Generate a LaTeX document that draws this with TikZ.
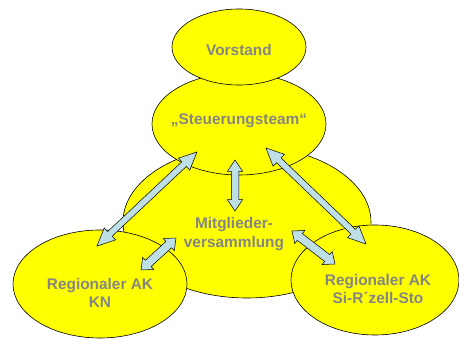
\documentclass[tikz,border=0pt]{standalone}
\usepackage{fontspec}
\setmainfont{Liberation Sans}
\usetikzlibrary{shapes.geometric,shapes.arrows,calc}
\definecolor{kreisgelb}{HTML}{FFFF00}
\definecolor{pfeilblau}{HTML}{BEDFE6}
\definecolor{schriftgrau}{HTML}{858585}

\tikzset{
  gremium/.style={ellipse, draw=black, line width=0.6pt, fill=kreisgelb, inner sep=0pt},
  titel/.style={text=schriftgrau, font=\fontsize{15.4}{18.5}\selectfont\bfseries, align=center},
  pfeil/.style={double arrow, draw=black, line width=0.5pt, fill=pfeilblau, inner xsep=0pt,
                inner ysep=3pt, double arrow head extend=5pt, double arrow tip angle=50},
  kurzpfeil/.style={inner ysep=4pt, double arrow head extend=4pt, double arrow tip angle=80},
}
% block double arrow between two named coordinates
\newcommand{\verbindung}[3][]{%
  \path let \p1=($(#3)-(#2)$), \n1={veclen(\x1,\y1)}, \n2={atan2(\y1,\x1)} in
    node[pfeil, #1, rotate=\n2, minimum height=\n1] at ($(#2)!0.5!(#3)$) {};}

\begin{document}
\begin{tikzpicture}[x=1pt, y=-1pt]
  \useasboundingbox (0,0) rectangle (459,339);
  % Gremien
  \node[gremium, minimum width=248pt, minimum height=152pt] (mv) at (247,222) {};
  \node[gremium, minimum width=174pt, minimum height=102pt] (st) at (239,124) {};
  \node[gremium, minimum width=134pt, minimum height=76pt]  (vs) at (239,47) {};
  \node[gremium, minimum width=174pt, minimum height=108pt] (kn) at (100,284) {};
  \node[gremium, minimum width=168pt, minimum height=110pt] (sz) at (375,280) {};

  % Pfeilenden
  \coordinate (kn-oben) at (97,246);
  \coordinate (st-links) at (197,152);
  \coordinate (st-unten) at (235,160);
  \coordinate (mv-oben) at (235,211);
  \coordinate (st-rechts) at (266,148);
  \coordinate (sz-oben) at (366,244);
  \coordinate (kn-rechts) at (141,270);
  \coordinate (mv-links) at (176,238);
  \coordinate (mv-rechts) at (292,231);
  \coordinate (sz-links) at (335,264);

  \verbindung{kn-oben}{st-links}
  \verbindung[inner ysep=3.5pt, double arrow head extend=4pt, double arrow tip angle=68]{st-unten}{mv-oben}
  \verbindung{st-rechts}{sz-oben}
  \verbindung[kurzpfeil]{kn-rechts}{mv-links}
  \verbindung[kurzpfeil]{mv-rechts}{sz-links}

  % Beschriftungen
  \node[titel] (vs-text) at (239,50) {Vorstand};
  \node[titel] (st-text) at (239,121) {„Steuerungsteam“};
  \node[titel] (mv-text) at (234,234) {Mitglieder-\\versammlung};
  \node[titel] (kn-text) at (100,293) {Regionaler AK\\KN};
  \node[titel] (sz-text) at (378,289) {Regionaler AK\\Si-R´zell-Sto};
\end{tikzpicture}
\end{document}
